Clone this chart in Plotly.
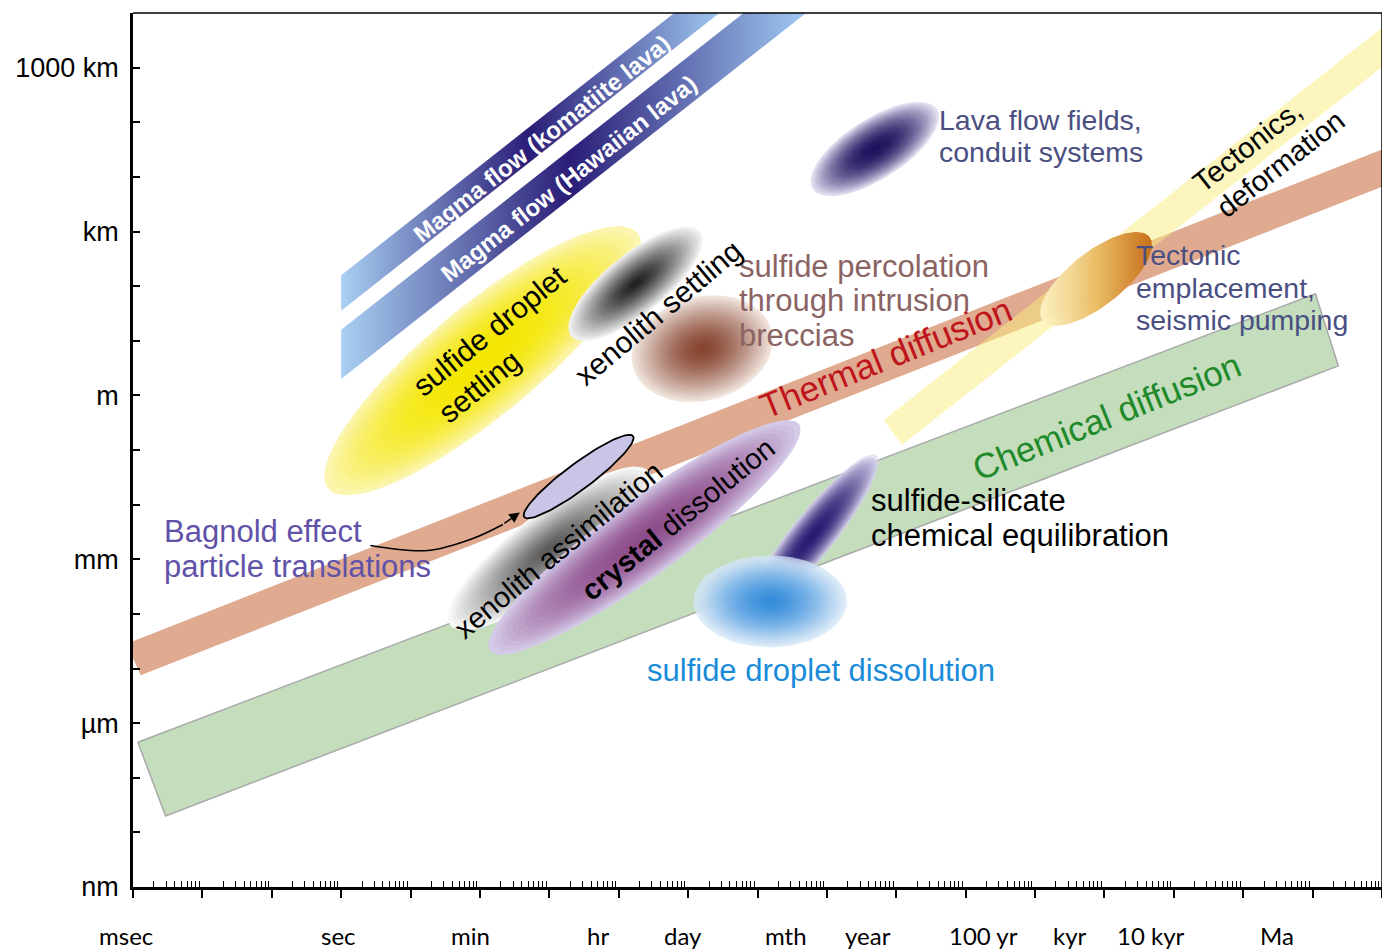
import numpy as np
import plotly.graph_objects as go

# ---------------- data (x = log10 time [s], y = log10 length [m]) ----------------
x_label_names = ["msec", "sec", "min", "hr", "day", "mth", "year", "100 yr", "kyr", "10 kyr", "Ma"]
x_label_pos = [-3.1, -0.04, 1.87, 3.70, 4.93, 6.41, 7.59, 9.26, 10.51, 11.67, 13.49]
y_tick_vals = list(range(-9, 8))
y_label_map = {-9: "nm", -6: "\u00b5m", -3: "mm", 0: "m", 3: "km", 6: "1000 km"}
X_RANGE = [-3, 15]
Y_RANGE = [-9, 7]

# Bands (polygon corners)
komatiite_t = [0.0, 0.0, 6.5, 6.5]
komatiite_L = [1.55, 2.2, 8.7, 8.05]
hawaiian_t = [0.0, 0.0, 7.5, 7.5]
hawaiian_L = [0.3, 1.2, 8.7, 7.8]
thermal_t = [-3.09, 15.3, 15.3, -2.89]
thermal_L = [-4.545, 4.65, 3.97, -5.125]
chemical_t = [-2.93, 14.04, 14.37, -2.53]
chemical_L = [-6.35, 1.86, 0.54, -7.70]
tectonic_t = [7.82, 15.3, 15.3, 8.08]
tectonic_L = [-0.45, 7.03, 6.31, -0.91]

# Process ellipses: centre and conjugate semi-axis vectors (decades)
proc_names = ["sulfide settling", "xenolith settling", "percolation", "lava fields",
              "tectonic emplacement", "xenolith assimilation", "crystal dissolution",
              "bagnold", "sulfide-silicate", "droplet dissolution"]
proc_t = [2.04, 4.241, 5.204, 7.69, 10.879, 3.006, 4.371, 3.422, 6.784, 6.181]
proc_L = [0.634, 2.042, 0.854, 4.51, 2.133, -2.803, -2.601, -1.486, -2.583, -3.771]
proc_major_dt = [2.227, 0.927, 0.999, 0.895, 0.770, 1.434, 2.226, 0.784, 0.934, 1.106]
proc_major_dL = [2.34, 0.954, 0.340, 0.729, 0.766, 1.406, 2.073, 0.741, 1.484, 0.0]
proc_minor_dt = [0.503, 0.271, 0.194, 0.232, 0.239, 0.316, 0.322, 0.111, 0.247, 0.0]
proc_minor_dL = [-0.775, -0.426, -0.918, -0.462, -0.389, -0.521, -0.561, -0.191, -0.252, 0.841]

# Bagnold arrow path
arrow_t = [0.42, 1.253, 1.899, 2.33]
arrow_L = [-2.748, -2.839, -2.62, -2.364]
arrow_tip = (2.575, -2.144)

# ---------------- styles ----------------
FONT = "Liberation Sans, Arial, sans-serif"
grad = {
    "sulfide settling": ("#f4e600", "#fbf5b0", 2.2, 1.0, 1.0),
    "xenolith settling": ("#1c1c1c", "#f0f0f0", 1.3, 1.0, 1.0),
    "percolation": ("#86432f", "#f0e4dd", 1.5, 1.0, 1.0),
    "lava fields": ("#1e135e", "#e2def0", 2.0, 1.0, 1.0),
    "xenolith assimilation": ("#575757", "#f7f7f7", 1.3, 1.0, 1.0),
    "crystal dissolution": ("#8e4d8c", "#d4c9e7", 2.0, 1.0, 1.0),
    "sulfide-silicate": ("#281c72", "#d8d4ec", 2.0, 0.6, 0.9),
    "droplet dissolution": ("#2f89da", "#d3e6f7", 1.6, 0.75, 0.35),
}

fig = go.Figure()


def hexrgb(h):
    h = h.lstrip("#")
    return np.array([int(h[i:i + 2], 16) for i in (0, 2, 4)], float)


def band(t, L, color, line=None, **kw):
    fig.add_trace(go.Scatter(x=t + [t[0]], y=L + [L[0]], mode="lines", fill="toself",
                             fillcolor=color,
                             line=dict(color=line or "rgba(0,0,0,0)", width=1.5 if line else 0),
                             hoverinfo="skip", showlegend=False, **kw))


def ell_pts(i, s, n=100):
    th = np.linspace(0, 2 * np.pi, n)
    x = proc_t[i] + s * (proc_major_dt[i] * np.cos(th) + proc_minor_dt[i] * np.sin(th))
    y = proc_L[i] + s * (proc_major_dL[i] * np.cos(th) + proc_minor_dL[i] * np.sin(th))
    return x, y


def grad_ellipse(name, nlay=26):
    i = proc_names.index(name)
    inner, outer, p, a_out, a_in = grad[name]
    ci, co = hexrgb(inner), hexrgb(outer)
    for k in range(nlay):
        s = 1 - k / nlay
        t = s ** p
        c = ci + (co - ci) * t
        a = a_out if k == 0 else a_in
        x, y = ell_pts(i, s)
        fig.add_trace(go.Scatter(x=x, y=y, mode="lines", fill="toself",
                                 fillcolor=f"rgba({c[0]:.0f},{c[1]:.0f},{c[2]:.0f},{a})",
                                 line=dict(width=0, color="rgba(0,0,0,0)"),
                                 hoverinfo="skip", showlegend=False))


# bands
band(chemical_t, chemical_L, "rgba(185,215,178,0.85)", line="#a9a9a9")
band(thermal_t, thermal_L, "rgba(220,163,134,0.92)")
band(tectonic_t, tectonic_L, "rgba(250,238,125,0.5)")
band(komatiite_t, komatiite_L, "#5b7cc6",
     fillgradient=dict(type="horizontal", start=0, stop=5.4,
                       colorscale=[[0, "#a9d0f2"], [0.5, "#2a1d77"], [1, "#9dc4ee"]]))
band(hawaiian_t, hawaiian_L, "#5b7cc6",
     fillgradient=dict(type="horizontal", start=0, stop=6.6,
                       colorscale=[[0, "#a9d0f2"], [0.5, "#2a1d77"], [1, "#9dc4ee"]]))

# ellipses
grad_ellipse("sulfide settling")
grad_ellipse("xenolith settling")
grad_ellipse("percolation")
grad_ellipse("lava fields")

i = proc_names.index("tectonic emplacement")
ex, ey = ell_pts(i, 1.0)
fig.add_trace(go.Scatter(x=ex, y=ey, mode="lines", fill="toself", fillcolor="#e0a040",
                         line=dict(width=0, color="rgba(0,0,0,0)"),
                         fillgradient=dict(type="horizontal", start=float(ex.min()), stop=float(ex.max()),
                                           colorscale=[[0, "rgba(253,245,200,0.9)"], [0.5, "#eabd66"],
                                                       [1, "#c8701a"]]),
                         hoverinfo="skip", showlegend=False))

grad_ellipse("xenolith assimilation")
grad_ellipse("crystal dissolution")

i = proc_names.index("bagnold")
bx, by = ell_pts(i, 1.0)
fig.add_trace(go.Scatter(x=bx, y=by, mode="lines", fill="toself", fillcolor="#c9c5e6",
                         line=dict(width=1.8, color="black"), hoverinfo="skip", showlegend=False))

grad_ellipse("sulfide-silicate")
grad_ellipse("droplet dissolution")

# Bagnold arrow
fig.add_trace(go.Scatter(x=arrow_t, y=arrow_L, mode="lines", line=dict(color="black", width=1.5, shape="spline"),
                         hoverinfo="skip", showlegend=False))
fig.add_annotation(x=arrow_tip[0], y=arrow_tip[1], ax=arrow_t[-1], ay=arrow_L[-1], axref="x", ayref="y",
                   xref="x", yref="y", text="", showarrow=True, arrowhead=2, arrowsize=1.4,
                   arrowwidth=1.5, arrowcolor="black")


def txt(x, y, s, size, color, angle=0, xanchor="center", bold=False):
    fig.add_annotation(x=x, y=y, xref="x", yref="y", text=f"<b>{s}</b>" if bold else s,
                       showarrow=False, textangle=angle, xanchor=xanchor, yanchor="middle",
                       font=dict(family=FONT, size=size, color=color))


# labels
txt(2.89, 4.71, "Magma flow (komatiite lava)", 24, "white", -38.2, bold=True)
txt(3.28, 3.97, "Magma flow (Hawaiian lava)", 24, "white", -38.2, bold=True)
txt(8.58, 5.04, "Lava flow fields,", 28.5, "#4a4f82", xanchor="left")
txt(8.58, 4.455, "conduit systems", 28.5, "#4a4f82", xanchor="left")
txt(5.707, 2.353, "sulfide percolation", 31, "#8b6363", xanchor="left")
txt(5.707, 1.731, "through intrusion", 31, "#8b6363", xanchor="left")
txt(5.707, 1.091, "breccias", 31, "#8b6363", xanchor="left")
txt(11.425, 2.572, "Tectonic", 28.5, "#4a4f82", xanchor="left")
txt(11.425, 1.969, "emplacement,", 28.5, "#4a4f82", xanchor="left")
txt(11.425, 1.384, "seismic pumping", 28.5, "#4a4f82", xanchor="left")
txt(13.063, 4.565, "Tectonics,", 29, "black", -38)
txt(13.537, 4.236, "deformation", 29, "black", -38)
txt(2.144, 1.183, "sulfide droplet", 30, "black", -39)
txt(1.989, 0.159, "settling", 30, "black", -39)
txt(4.572, 1.512, "xenolith settling", 30, "black", -40)
txt(7.848, 0.689, "Thermal diffusion", 35, "#c0141c", -22)
txt(11.023, -0.389, "Chemical diffusion", 35, "#1f8a2a", -22)
txt(3.135, -2.839, "xenolith assimilation", 29, "black", -39.5)
txt(4.859, -2.272, "<b>crystal</b> dissolution", 29, "black", -39)
txt(-2.583, -2.492, "Bagnold effect", 31, "#5f52a8", xanchor="left")
txt(-2.583, -3.132, "particle translations", 31, "#5f52a8", xanchor="left")
txt(7.603, -1.925, "sulfide-silicate", 31, "black", xanchor="left")
txt(7.603, -2.565, "chemical equilibration", 31, "black", xanchor="left")
txt(6.914, -5.033, "sulfide droplet dissolution", 31, "#1a8bd9")

# x-axis category labels (paper-x so labels just outside the range are still drawn)
for name, pos in zip(x_label_names, x_label_pos):
    fig.add_annotation(x=(pos - X_RANGE[0]) / (X_RANGE[1] - X_RANGE[0]), y=0, xref="paper", yref="paper",
                       xanchor="center", yanchor="middle", yshift=-48, text=name, showarrow=False,
                       font=dict(family="Lato, Carlito, sans-serif", size=24, color="black"))

minor_x = [np.log10(k) + d for d in range(-3, 15) for k in range(2, 10)]

fig.update_xaxes(range=X_RANGE, showgrid=False, zeroline=False, showline=True, linewidth=2.5,
                 linecolor="black", ticks="outside", tickvals=list(range(-3, 16)), ticklen=8, tickwidth=2,
                 tickcolor="black", showticklabels=False,
                 minor=dict(tickvals=minor_x, ticks="inside", ticklen=6, tickwidth=1.3, tickcolor="black"))
fig.update_yaxes(range=Y_RANGE, showgrid=False, zeroline=False, showline=True, linewidth=2.5,
                 linecolor="black", ticks="inside", tickvals=y_tick_vals,
                 ticktext=[y_label_map.get(v, "") for v in y_tick_vals], ticklen=7, tickwidth=2,
                 tickcolor="black", tickfont=dict(family=FONT, size=27, color="black"), ticklabelstandoff=6)

fig.add_shape(type="line", xref="paper", yref="paper", x0=0, x1=1, y0=1, y1=1, line=dict(color="black", width=1.5))
fig.add_shape(type="line", xref="paper", yref="paper", x0=1, x1=1, y0=0, y1=1, line=dict(color="black", width=1.5))

# page body adds an 8 px offset; size the figure so the plot area lands where the reference has it
fig.update_layout(width=1378, height=942, margin=dict(l=125, r=4, t=5, b=63),
                  plot_bgcolor="white", paper_bgcolor="white", showlegend=False)

fig.write_html("out.html")
